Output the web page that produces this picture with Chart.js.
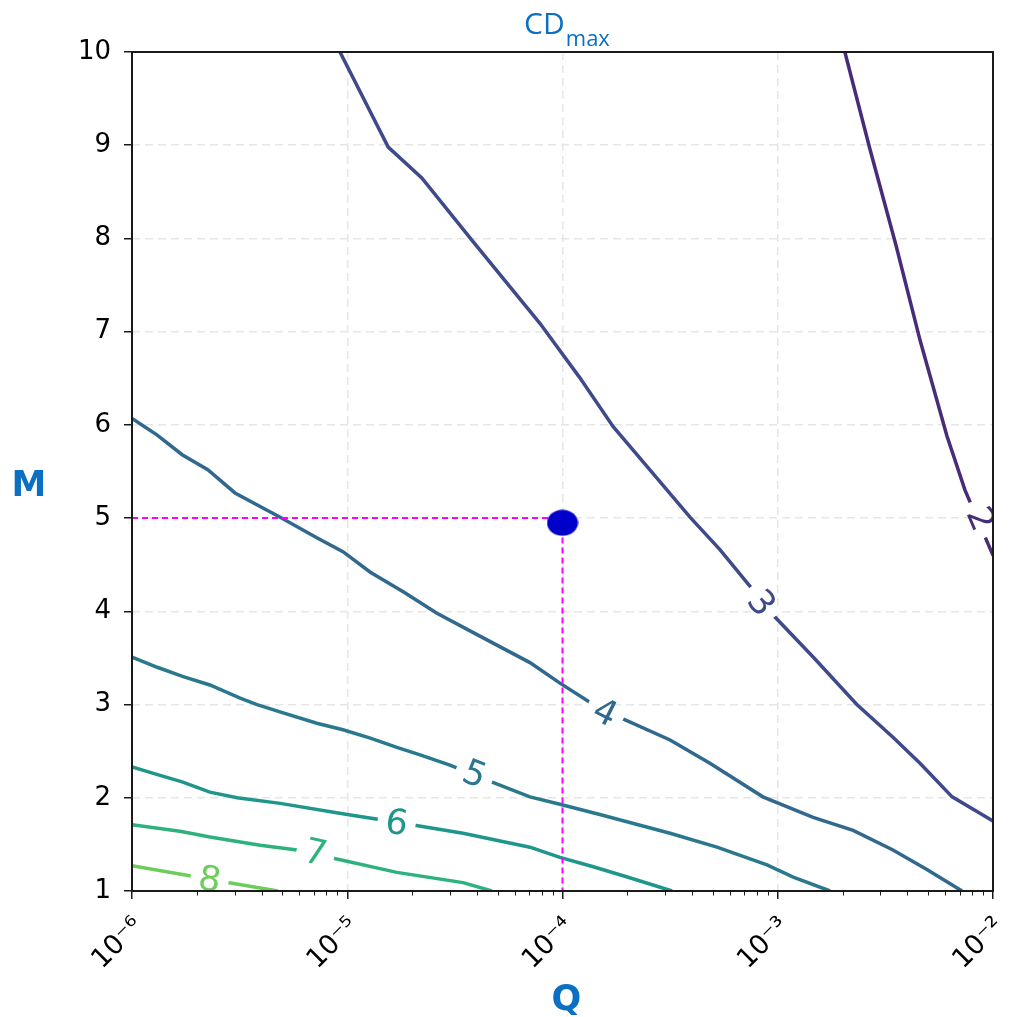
<!DOCTYPE html>
<html>
<head>
<meta charset="utf-8">
<script src="https://cdn.jsdelivr.net/npm/chart.js@4.4.1/dist/chart.umd.min.js"></script>
<style>
  html, body { margin: 0; padding: 0; background: #fff; }
  #wrap { width: 1014px; height: 1017px; }
</style>
</head>
<body>
<div id="wrap"><canvas id="cdChart" width="1014" height="1017"></canvas></div>
<script>
// axis ticks
const qMajorTicks = [1e-6, 1e-5, 1e-4, 1e-3, 1e-2];
const mTicks = [1, 2, 3, 4, 5, 6, 7, 8, 9, 10];

// contour levels (CDmax)
const levels = [2, 3, 4, 5, 6, 7, 8];
const levelColors = ['#472c7a', '#3e4a89', '#31688e', '#2a788e', '#1f968b', '#2db27d', '#6ccd5a'];

const level2Q = [2.05e-3, 2.68e-3, 3.54e-3, 4.58e-3, 6.11e-3, 7.41e-3, 1e-2];
const level2M = [10, 8.96, 7.93, 6.91, 5.88, 5.30, 4.60];

const level3Q = [9.25e-6, 1.55e-5, 2.22e-5, 3.80e-5, 7.85e-5, 1.20e-4, 1.72e-4, 2.63e-4, 3.91e-4, 5.40e-4, 7.67e-4, 9.51e-4, 1.46e-3, 2.33e-3, 3.43e-3, 4.58e-3, 6.46e-3, 1e-2];
const level3M = [10, 8.98, 8.65, 7.98, 7.09, 6.51, 5.98, 5.48, 5.01, 4.66, 4.23, 3.96, 3.51, 3.00, 2.65, 2.37, 2.01, 1.75];

const level4Q = [1e-6, 1.31e-6, 1.71e-6, 2.25e-6, 3.01e-6, 4.88e-6, 7.22e-6, 9.55e-6, 1.28e-5, 1.82e-5, 2.61e-5, 4.01e-5, 7.06e-5, 9.73e-5, 1.39e-4, 1.81e-4, 3.16e-4, 4.84e-4, 8.53e-4, 1.46e-3, 2.24e-3, 3.43e-3, 4.93e-3, 7.18e-3];
const level4M = [6.07, 5.89, 5.68, 5.52, 5.27, 5.01, 4.79, 4.64, 4.42, 4.21, 3.98, 3.75, 3.45, 3.23, 3.00, 2.87, 2.62, 2.37, 2.01, 1.79, 1.65, 1.44, 1.23, 1.00];

const level5Q = [1e-6, 1.31e-6, 1.73e-6, 2.30e-6, 3.18e-6, 3.81e-6, 5.04e-6, 7.22e-6, 9.55e-6, 1.28e-5, 1.70e-5, 2.18e-5, 3.00e-5, 4.46e-5, 7.06e-5, 9.73e-5, 1.49e-4, 3.16e-4, 5.22e-4, 8.91e-4, 1.18e-3, 1.75e-3];
const level5M = [3.51, 3.40, 3.30, 3.21, 3.07, 3.00, 2.91, 2.80, 2.73, 2.64, 2.54, 2.46, 2.35, 2.19, 2.01, 1.93, 1.82, 1.62, 1.47, 1.28, 1.15, 1.00];

const level6Q = [1e-6, 1.35e-6, 1.71e-6, 2.30e-6, 3.08e-6, 4.88e-6, 1.0e-5, 1.67e-5, 3.45e-5, 7.06e-5, 9.73e-5, 1.39e-4, 2.00e-4, 3.23e-4];
const level6M = [2.33, 2.24, 2.17, 2.06, 2.00, 1.94, 1.82, 1.74, 1.62, 1.47, 1.36, 1.26, 1.15, 1.00];

const level7Q = [1e-6, 1.67e-6, 2.30e-6, 3.94e-6, 5.85e-6, 8.32e-6, 1.70e-5, 3.45e-5, 4.70e-5];
const level7M = [1.71, 1.64, 1.58, 1.49, 1.44, 1.36, 1.20, 1.09, 1.00];

const level8Q = [1e-6, 2.00e-6, 2.65e-6, 4.77e-6];
const level8M = [1.27, 1.15, 1.10, 1.00];

// where the inline contour labels sit
const labelQ = [8.9e-3, 8.5e-4, 1.59e-4, 3.93e-5, 1.70e-5, 7.16e-6, 2.30e-6];
const labelM = [5.0, 4.10, 2.93, 2.27, 1.75, 1.43, 1.14];

// design point and its guide lines
const guideQ = [1e-6, 1e-4, 1e-4];
const guideM = [5, 5, 1];
const pointQ = [1e-4];
const pointM = [4.95];

const levelQ = [level2Q, level3Q, level4Q, level5Q, level6Q, level7Q, level8Q];
const levelM = [level2M, level3M, level4M, level5M, level6M, level7M, level8M];

const toXY = (qs, ms) => qs.map((q, i) => ({ x: q, y: ms[i] }));

const supMap = { '-': '\u207B', '0': '\u2070', '1': '\u00B9', '2': '\u00B2', '3': '\u00B3',
                 '4': '\u2074', '5': '\u2075', '6': '\u2076', '7': '\u2077', '8': '\u2078', '9': '\u2079' };
const powLabel = v => '10' + String(Math.round(Math.log10(v))).split('').map(c => supMap[c]).join('');

const blue = '#0b6fc4';
const spine = '#1a1a1a';

// ellipse marker for the design point
const dot = document.createElement('canvas');
dot.width = 32; dot.height = 27;
(function () {
    const c = dot.getContext('2d');
    c.fillStyle = '#0000cc';
    c.beginPath();
    c.ellipse(16, 13.5, 15.5, 13, 0, 0, Math.PI * 2);
    c.fill();
})();

const datasets = levels.map((lv, i) => ({
    label: 'CD ' + lv,
    data: toXY(levelQ[i], levelM[i]),
    showLine: true,
    borderColor: levelColors[i],
    borderWidth: 3.5,
    pointRadius: 0,
    fill: false,
    order: 3
}));
datasets.push({
    label: 'guide',
    data: toXY(guideQ, guideM),
    showLine: true,
    borderColor: '#ff00ff',
    borderWidth: 2,
    borderDash: [6, 4],
    pointRadius: 0,
    fill: false,
    order: 2
});
datasets.push({
    label: 'point',
    data: toXY(pointQ, pointM),
    showLine: false,
    pointStyle: dot,
    pointRadius: 15,
    clip: false,
    order: 1
});

const decorPlugin = {
    id: 'decor',
    afterDatasetsDraw(chart) {
        const { ctx, chartArea: a, scales: { x, y } } = chart;

        // inline contour labels
        ctx.save();
        ctx.beginPath();
        ctx.rect(a.left, a.top, a.right - a.left, a.bottom - a.top);
        ctx.clip();
        const fs = 35;
        ctx.font = fs + 'px "DejaVu Sans"';
        labelQ.forEach((q, i) => {
            const px = x.getPixelForValue(q), py = y.getPixelForValue(labelM[i]);
            const pts = levelQ[i].map((lq, k) => [x.getPixelForValue(lq), y.getPixelForValue(levelM[i][k])]);
            let best = Infinity, ang = 0;
            for (let k = 0; k < pts.length - 1; k++) {
                const mx = (pts[k][0] + pts[k + 1][0]) / 2, my = (pts[k][1] + pts[k + 1][1]) / 2;
                const d = Math.hypot(mx - px, my - py);
                if (d < best) { best = d; ang = Math.atan2(pts[k + 1][1] - pts[k][1], pts[k + 1][0] - pts[k][0]); }
            }
            if (ang > Math.PI / 2) ang -= Math.PI;
            if (ang < -Math.PI / 2) ang += Math.PI;
            const txt = String(levels[i]);
            const w = ctx.measureText(txt).width;
            ctx.save();
            ctx.translate(px, py);
            ctx.rotate(ang);
            ctx.fillStyle = '#ffffff';
            ctx.fillRect(-w / 2 - 8, -9, w + 16, 18);
            ctx.fillStyle = levelColors[i];
            ctx.textAlign = 'center';
            ctx.textBaseline = 'alphabetic';
            ctx.fillText(txt, 0, fs * 0.365);
            ctx.restore();
        });
        ctx.restore();
    },
    afterDraw(chart) {
        const { ctx, chartArea: a, scales: { x } } = chart;
        ctx.save();

        // minor ticks on the log axis
        ctx.strokeStyle = spine;
        ctx.lineWidth = 1;
        for (let e = -6; e < -2; e++) {
            for (let k = 2; k <= 9; k++) {
                const px = Math.round(x.getPixelForValue(k * Math.pow(10, e))) + 0.5;
                ctx.beginPath();
                ctx.moveTo(px, a.bottom);
                ctx.lineTo(px, a.bottom + 4.5);
                ctx.stroke();
            }
        }

        // frame
        ctx.strokeStyle = spine;
        ctx.lineWidth = 2;
        ctx.strokeRect(a.left, a.top, a.right - a.left, a.bottom - a.top);

        // title CD_max
        const cx = (a.left + a.right) / 2 + 4;
        ctx.fillStyle = blue;
        ctx.textBaseline = 'alphabetic';
        ctx.textAlign = 'left';
        ctx.font = '30px "Open Sans"';
        const w1 = ctx.measureText('CD').width;
        ctx.font = '22px "Open Sans"';
        const w2 = ctx.measureText('max').width;
        const sx = cx - (w1 + w2) / 2;
        ctx.font = '30px "Open Sans"';
        ctx.fillText('CD', sx, 34);
        ctx.font = '22px "Open Sans"';
        ctx.fillText('max', sx + w1 + 1, 46);

        // axis titles
        ctx.font = 'bold 35px "DejaVu Sans"';
        ctx.textAlign = 'center';
        ctx.fillText('M', 29, 496);
        ctx.fillText('Q', (a.left + a.right) / 2 + 4, 1010);
        ctx.restore();
    }
};

new Chart(document.getElementById('cdChart'), {
    type: 'scatter',
    data: { datasets: datasets },
    options: {
        responsive: false,
        animation: false,
        events: [],
        layout: { padding: { top: 52, right: 21, left: 0, bottom: 0 } },
        plugins: {
            legend: { display: false },
            tooltip: { enabled: false },
            title: { display: false }
        },
        scales: {
            x: {
                type: 'logarithmic',
                min: qMajorTicks[0],
                max: qMajorTicks[qMajorTicks.length - 1],
                afterBuildTicks: scale => { scale.ticks = qMajorTicks.map(v => ({ value: v, major: true })); },
                afterFit: scale => {
                    scale.height = 126;
                    scale.paddingLeft = 0;
                    scale.paddingRight = 0;
                },
                ticks: {
                    autoSkip: false,
                    minRotation: 45,
                    maxRotation: 45,
                    padding: 12,
                    labelOffset: 7,
                    color: '#000',
                    font: { family: 'DejaVu Sans', size: 27 },
                    callback: value => powLabel(value)
                },
                grid: {
                    color: '#e6e6e6',
                    lineWidth: 1.5,
                    tickLength: 8,
                    tickColor: spine,
                    tickWidth: 1.5
                },
                border: { display: false, dash: [8, 5] }
            },
            y: {
                type: 'linear',
                min: mTicks[0],
                max: mTicks[mTicks.length - 1],
                afterBuildTicks: scale => { scale.ticks = mTicks.map(v => ({ value: v })); },
                afterFit: scale => {
                    scale.width = 132;
                    scale.paddingTop = 0;
                    scale.paddingBottom = 0;
                },
                ticks: {
                    padding: 13,
                    color: '#000',
                    font: { family: 'DejaVu Sans', size: 26 },
                    callback: value => String(value)
                },
                grid: {
                    color: '#e6e6e6',
                    lineWidth: 1.5,
                    tickLength: 8,
                    tickColor: spine,
                    tickWidth: 1.5
                },
                border: { display: false, dash: [8, 5] }
            }
        }
    },
    plugins: [decorPlugin]
});
</script>
</body>
</html>
